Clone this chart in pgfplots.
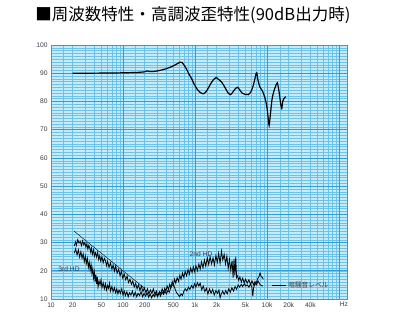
\documentclass[border=0pt]{standalone}
\usepackage{pgfplots}
\pgfplotsset{compat=1.18}
\usepackage{fontspec}
\setmainfont{Liberation Sans}
\newfontfamily\cjk{Noto Sans CJK JP}
\definecolor{bgc}{HTML}{C4EBF7}
\definecolor{gridc}{HTML}{6CC3EA}
\definecolor{gridd}{HTML}{2E9ED8}
\definecolor{txt}{HTML}{3A3A48}
\begin{document}
\begin{tikzpicture}
\begin{axis}[
  xmode=log, log basis x=10,
  xmin=10, xmax=129000, ymin=10, ymax=100,
  scale only axis, width=222pt, height=190.5pt,
  clip=false,
  axis background/.style={fill=bgc},
  axis line style={gridd, line width=0.6pt},
  tick style={draw=none},
  xtick={10,20,50,100,200,500,1000,2000,5000,10000,20000,40000,117000},
  xticklabels={10,20,50,100,200,500,1k,2k,5k,10k,20k,40k,Hz},
  minor xtick={15,20,30,40,50,60,70,80,90,150,200,300,400,500,600,700,800,900,1500,2000,3000,4000,5000,6000,7000,8000,9000,15000,20000,30000,40000,50000,60000,70000,80000,90000},
  extra x ticks={100,1000,10000,100000},
  extra x tick labels={},
  extra x tick style={xmajorgrids=true, major grid style={gridd, line width=0.55pt}},
  xmajorgrids=false, xminorgrids=true,
  ytick={10,20,...,100},
  minor ytick={11,...,99},
  ymajorgrids=true, yminorgrids=true,
  major grid style={gridd, line width=0.55pt},
  minor grid style={gridc, line width=0.3pt},
  /pgf/number format/assume math mode=true,
  tick label style={font=\fontsize{5}{6}\selectfont, text=txt},
  yticklabel style={xshift=1pt},
  xticklabel style={yshift=1pt},
]
% frequency response
\addplot[black, line width=0.9pt, smooth, tension=0.4] coordinates {
(20,90.0) (30,90.0) (50,90.05) (80,90.1) (120,90.2) (160,90.3) (200,90.5) (215,90.8) (235,90.6) (260,90.6) (300,90.8) (350,91.2) (400,91.6) (450,92.1) (500,92.6) (560,93.3) (620,93.9) (660,93.8) (700,93.0) (760,91.5) (820,89.8) (900,88.0) (980,86.0) (1080,84.2) (1180,83.2) (1300,82.7) (1420,83.4) (1550,85.0) (1700,86.8) (1850,88.0) (1980,88.5) (2100,87.9) (2250,87.3) (2400,86.5) (2600,85.0) (2850,83.2) (3100,82.4) (3350,83.3) (3650,84.6) (3900,85.0) (4150,84.2) (4500,83.0) (5000,82.5) (5500,82.4) (6000,83.5) (6500,86.0) (7000,89.5) (7200,90.2) (7500,87.5) (8000,85.0) (8600,83.8) (9300,81.5) (9900,78.5) (10400,74) (10700,71.5) (11100,75) (11700,80.5) (12400,83.5) (13200,85.5) (13900,86.6) (14700,83.5) (15400,79.5) (16000,77.5) (16600,80.2) (17400,81.2) (18200,81.7)
};
% 2nd HD
\addplot[black, line width=0.6pt] coordinates {
(21,28.8) (22,30.2) (22.5,29.0) (23.5,31.0) (24.5,29.8) (25.5,30.4) (26.5,28.9) (27.5,30.6) (28.5,29.2) (29.5,30.0) (30.5,28.4) (31.5,29.6) (32.5,27.6) (33.5,29.0) (34.5,28.2) (35.5,26.6) (36.5,28.0) (37.5,25.8) (39,27.4) (40,25.2) (41.5,26.4) (43,24.8) (44.5,26.6) (46,24.0) (47.5,25.4) (49,23.4) (51,25.0) (53,22.8) (55,24.4) (57,23.6) (59,21.8) (61,23.4) (64,21.2) (67,22.8) (70,20.6) (73,22.0) (76,19.8) (79,21.6) (83,19.2) (87,20.6) (91,18.2) (95,19.8) (99,17.4) (104,18.8) (109,16.8) (114,18.2) (119,15.8) (125,17.0) (131,15.2) (137,16.4) (143,14.2) (150,15.6) (157,13.6) (164,15.0) (172,13.0) (180,14.6) (189,12.6) (198,14.0) (208,12.2) (218,13.6) (229,11.8) (240,13.2) (252,12.0) (264,13.6) (277,11.6) (290,12.8) (305,11.2) (320,12.6) (335,12.0) (350,13.6) (365,12.2) (380,13.8) (395,12.8) (410,14.6) (428,13.4) (445,15.2) (463,14.0) (482,16.2) (500,14.8) (520,17.0) (540,15.6) (565,17.6) (590,16.2) (615,18.4) (640,17.0) (670,19.2) (700,17.6) (730,19.8) (765,18.2) (800,20.4) (835,18.8) (870,21.0) (910,19.4) (950,21.4) (990,19.6) (1030,21.8) (1080,20.0) (1130,22.4) (1180,20.6) (1230,23.2) (1290,21.0) (1350,23.8) (1410,21.6) (1480,24.6) (1550,22.2) (1620,25.0) (1700,22.4) (1780,24.6) (1860,22.0) (1950,25.4) (2040,23.0) (2130,26.2) (2230,22.6) (2330,27.0) (2430,23.8) (2540,25.8) (2650,22.4) (2770,25.2) (2890,20.8) (3010,24.0) (3140,20.2) (3270,23.6) (3380,17.6) (3480,24.2) (3580,18.4) (3680,25.0) (3780,17.6) (3900,18.2) (4050,16.6) (4200,17.8) (4400,16.0) (4600,17.4) (4800,15.8) (5050,17.0) (5300,15.6) (5600,16.8) (5900,15.2) (6200,16.4) (6500,15.0) (6800,16.2) (7100,15.6) (7400,17.2) (7700,17.8) (8000,19.2) (8300,18.0) (8600,17.6) (8900,17.0)
};
% 3rd HD
\addplot[black, line width=0.6pt] coordinates {
(21,26.2) (22,27.8) (23,25.6) (24,27.4) (25,24.8) (26,26.8) (27,24.4) (28,26.0) (29,23.2) (30,25.2) (31,22.6) (32,24.4) (33,21.2) (34,23.0) (35,20.2) (36,22.4) (37,19.0) (38,20.8) (39,17.4) (40,19.6) (41,16.2) (42,18.6) (43,15.4) (44,17.8) (45,14.2) (46.5,16.4) (48,15.0) (49.5,16.8) (51,14.0) (53,15.8) (55,13.6) (57,15.4) (59,13.2) (61,14.8) (63,13.8) (65,15.6) (67,12.8) (70,14.4) (73,12.6) (76,14.0) (79,12.2) (82,13.6) (85,11.8) (88,13.2) (92,12.0) (96,13.6) (100,11.4) (104,12.8) (108,11.2) (113,12.6) (118,10.8) (123,12.2) (129,11.4) (135,12.8) (141,11.0) (148,12.4) (155,10.8) (162,12.0) (170,11.2) (178,12.6) (187,10.8) (196,12.0) (206,11.0) (216,12.2) (227,10.6) (238,11.8) (250,10.4) (262,11.6) (275,10.8) (288,12.0) (302,10.8) (317,12.2) (332,11.0) (348,12.4) (365,11.6) (382,12.8) (400,11.8) (420,13.0) (440,12.4) (460,14.0) (480,14.8) (500,15.2) (525,13.8) (550,12.4) (580,11.6) (610,10.8) (640,11.8) (670,11.2) (700,12.8) (735,13.6) (770,12.8) (810,14.2) (850,13.4) (895,14.8) (940,13.8) (985,15.4) (1030,14.2) (1080,15.8) (1130,14.6) (1180,15.6) (1240,13.2) (1300,14.6) (1370,12.6) (1440,13.8) (1510,11.8) (1590,13.6) (1670,12.0) (1760,13.4) (1850,11.4) (1950,13.0) (2050,12.0) (2150,13.2) (2230,10.4) (2320,11.8) (2420,12.8) (2540,11.6) (2670,13.0) (2800,11.8) (2940,13.6) (3090,12.4) (3250,14.0) (3420,12.8) (3600,14.4) (3780,13.4) (3970,15.0) (4170,14.2) (4380,15.2) (4600,14.4) (4830,15.4) (5070,14.6) (5320,15.0) (5600,14.2) (5880,15.2) (6150,14.4) (6350,11.0) (6500,13.8) (6800,15.6) (7150,15.0) (7500,16.4) (7850,15.4) (8250,14.8) (8800,14.6)
};
% reference slope line
\addplot[black, line width=0.3pt] coordinates {(21,34) (195,14)};
% noise level marker line
\addplot[black, line width=0.4pt] coordinates {(11700,14.9) (18400,14.9)};
\node[anchor=west, inner sep=1pt, font=\cjk\fontsize{5}{6}\selectfont, text=txt] at (axis cs:18800,14.9) {暗騒音レベル};
\node[font=\fontsize{5}{6}\selectfont, text=txt, inner sep=0pt] at (axis cs:17.8,20.5) {3rd HD};
\node[font=\fontsize{5}{6}\selectfont, text=txt, inner sep=0pt] at (axis cs:1212,25.9) {2nd HD};
% title
\node[anchor=west, inner sep=0pt, font=\cjk\fontsize{12.4}{14}\selectfont, text=black] at (rel axis cs:-0.054,1.118) {■周波数特性・高調波歪特性(90dB出力時)};
% bounding box
\path (rel axis cs:-0.1723,-0.0827) rectangle (rel axis cs:1.1791,1.1772);
\end{axis}
\end{tikzpicture}
\end{document}
